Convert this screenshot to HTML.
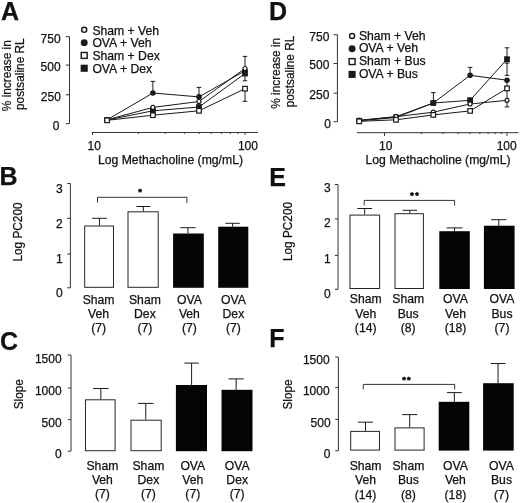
<!DOCTYPE html>
<html><head><meta charset="utf-8"><style>
html,body{margin:0;padding:0;background:#fff;}
svg{display:block;filter:grayscale(1);}
text{font-family:"Liberation Sans",sans-serif;fill:#111;stroke:#111;stroke-width:0.25px;}
</style></head><body>
<svg width="520" height="503" viewBox="0 0 520 503">
<rect width="520" height="503" fill="#fff"/>
<text x="1.00" y="19.50" font-size="25" text-anchor="start" font-weight="bold" stroke="#111" stroke-width="0.7">A</text>
<text x="269.00" y="19.50" font-size="25" text-anchor="start" font-weight="bold" stroke="#111" stroke-width="0.7">D</text>
<text x="-0.40" y="184.80" font-size="25" text-anchor="start" font-weight="bold" stroke="#111" stroke-width="0.7">B</text>
<text x="269.20" y="186.30" font-size="25" text-anchor="start" font-weight="bold" stroke="#111" stroke-width="0.7">E</text>
<text x="0.00" y="350.40" font-size="25" text-anchor="start" font-weight="bold" stroke="#111" stroke-width="0.7">C</text>
<text x="269.30" y="347.40" font-size="25" text-anchor="start" font-weight="bold" stroke="#111" stroke-width="0.7">F</text>
<line x1="69.50" y1="36.70" x2="69.50" y2="123.70" stroke="#333" stroke-width="1"/>
<line x1="65.70" y1="36.70" x2="69.50" y2="36.70" stroke="#333" stroke-width="1"/>
<text x="60.60" y="43.10" font-size="12" text-anchor="end" font-weight="normal" >750</text>
<line x1="65.70" y1="65.10" x2="69.50" y2="65.10" stroke="#333" stroke-width="1"/>
<text x="60.60" y="71.20" font-size="12" text-anchor="end" font-weight="normal" >500</text>
<line x1="65.70" y1="94.80" x2="69.50" y2="94.80" stroke="#333" stroke-width="1"/>
<text x="60.90" y="101.10" font-size="12" text-anchor="end" font-weight="normal" >250</text>
<line x1="65.70" y1="123.70" x2="69.50" y2="123.70" stroke="#333" stroke-width="1"/>
<text x="59.50" y="129.50" font-size="12" text-anchor="end" font-weight="normal" >0</text>
<line x1="91.90" y1="132.50" x2="257.80" y2="132.50" stroke="#333" stroke-width="1"/>
<line x1="92.50" y1="132.50" x2="92.50" y2="134.90" stroke="#333" stroke-width="1"/>
<line x1="138.44" y1="132.50" x2="138.44" y2="133.90" stroke="#333" stroke-width="1"/>
<line x1="165.31" y1="132.50" x2="165.31" y2="133.90" stroke="#333" stroke-width="1"/>
<line x1="184.37" y1="132.50" x2="184.37" y2="133.90" stroke="#333" stroke-width="1"/>
<line x1="199.16" y1="132.50" x2="199.16" y2="133.90" stroke="#333" stroke-width="1"/>
<line x1="211.25" y1="132.50" x2="211.25" y2="133.90" stroke="#333" stroke-width="1"/>
<line x1="221.46" y1="132.50" x2="221.46" y2="133.90" stroke="#333" stroke-width="1"/>
<line x1="230.31" y1="132.50" x2="230.31" y2="133.90" stroke="#333" stroke-width="1"/>
<line x1="238.12" y1="132.50" x2="238.12" y2="133.90" stroke="#333" stroke-width="1"/>
<line x1="245.10" y1="132.50" x2="245.10" y2="134.90" stroke="#333" stroke-width="1"/>
<text x="94.30" y="149.90" font-size="12" text-anchor="middle" font-weight="normal" >10</text>
<text x="247.90" y="149.70" font-size="12" text-anchor="middle" font-weight="normal" >100</text>
<text x="98.00" y="163.60" font-size="12.2" text-anchor="start" font-weight="normal" >Log Methacholine (mg/mL)</text>
<text transform="translate(10.60,75.70) rotate(-90) scale(0.97,1)" font-size="12.2" text-anchor="middle">% increase in</text>
<text transform="translate(24.40,74.20) rotate(-90) scale(0.97,1)" font-size="12.2" text-anchor="middle">postsaline RL</text>
<circle cx="84.20" cy="29.85" r="2.52" fill="#fff" stroke="#1a1a1a" stroke-width="1.45"/>
<text x="92.40" y="34.60" font-size="12.2" text-anchor="start" font-weight="normal" >Sham + Veh</text>
<circle cx="84.20" cy="42.65" r="3.45" fill="#1a1a1a"/>
<text x="92.40" y="47.40" font-size="12.2" text-anchor="start" font-weight="normal" >OVA + Veh</text>
<rect x="81.25" y="52.50" width="5.90" height="5.90" fill="#fff" stroke="#1a1a1a" stroke-width="1.45"/>
<text x="92.40" y="60.20" font-size="12.2" text-anchor="start" font-weight="normal" >Sham + Dex</text>
<rect x="80.65" y="64.70" width="7.10" height="7.10" fill="#1a1a1a"/>
<text x="92.40" y="73.00" font-size="12.2" text-anchor="start" font-weight="normal" >OVA + Dex</text>
<line x1="245.00" y1="88.70" x2="245.00" y2="101.30" stroke="#1a1a1a" stroke-width="1"/>
<line x1="242.70" y1="101.30" x2="247.30" y2="101.30" stroke="#1a1a1a" stroke-width="1"/>
<line x1="245.00" y1="73.50" x2="245.00" y2="80.80" stroke="#1a1a1a" stroke-width="1"/>
<line x1="242.70" y1="80.80" x2="247.30" y2="80.80" stroke="#1a1a1a" stroke-width="1"/>
<line x1="152.90" y1="93.00" x2="152.90" y2="81.40" stroke="#1a1a1a" stroke-width="1"/>
<line x1="150.60" y1="81.40" x2="155.20" y2="81.40" stroke="#1a1a1a" stroke-width="1"/>
<line x1="199.00" y1="96.90" x2="199.00" y2="87.40" stroke="#1a1a1a" stroke-width="1"/>
<line x1="196.70" y1="87.40" x2="201.30" y2="87.40" stroke="#1a1a1a" stroke-width="1"/>
<line x1="245.00" y1="70.80" x2="245.00" y2="56.40" stroke="#1a1a1a" stroke-width="1"/>
<line x1="242.70" y1="56.40" x2="247.30" y2="56.40" stroke="#1a1a1a" stroke-width="1"/>
<path d="M107.10,120.30 L152.90,115.20 L199.00,110.80 L245.00,88.70" fill="none" stroke="#1a1a1a" stroke-width="1"/>
<path d="M107.10,120.00 L152.90,110.80 L199.00,107.00 L245.00,73.50" fill="none" stroke="#1a1a1a" stroke-width="1"/>
<path d="M107.10,119.80 L152.90,107.40 L199.00,101.50 L245.00,68.50" fill="none" stroke="#1a1a1a" stroke-width="1"/>
<path d="M107.10,119.80 L152.90,93.00 L199.00,96.90 L245.00,70.80" fill="none" stroke="#1a1a1a" stroke-width="1"/>
<circle cx="107.10" cy="119.80" r="2.80" fill="#1a1a1a"/>
<circle cx="152.90" cy="93.00" r="2.80" fill="#1a1a1a"/>
<circle cx="199.00" cy="96.90" r="2.80" fill="#1a1a1a"/>
<circle cx="245.00" cy="70.80" r="2.80" fill="#1a1a1a"/>
<rect x="104.20" y="117.10" width="5.80" height="5.80" fill="#1a1a1a"/>
<rect x="150.00" y="107.90" width="5.80" height="5.80" fill="#1a1a1a"/>
<rect x="196.10" y="104.10" width="5.80" height="5.80" fill="#1a1a1a"/>
<rect x="242.10" y="70.60" width="5.80" height="5.80" fill="#1a1a1a"/>
<circle cx="107.10" cy="119.80" r="2.00" fill="#fff" stroke="#1a1a1a" stroke-width="1.2"/>
<circle cx="152.90" cy="107.40" r="2.00" fill="#fff" stroke="#1a1a1a" stroke-width="1.2"/>
<circle cx="199.00" cy="101.50" r="2.00" fill="#fff" stroke="#1a1a1a" stroke-width="1.2"/>
<circle cx="245.00" cy="68.50" r="2.00" fill="#fff" stroke="#1a1a1a" stroke-width="1.2"/>
<rect x="104.80" y="118.00" width="4.60" height="4.60" fill="#fff" stroke="#1a1a1a" stroke-width="1.2"/>
<rect x="150.60" y="112.90" width="4.60" height="4.60" fill="#fff" stroke="#1a1a1a" stroke-width="1.2"/>
<rect x="196.70" y="108.50" width="4.60" height="4.60" fill="#fff" stroke="#1a1a1a" stroke-width="1.2"/>
<rect x="242.70" y="86.40" width="4.60" height="4.60" fill="#fff" stroke="#1a1a1a" stroke-width="1.2"/>
<line x1="337.40" y1="34.70" x2="337.40" y2="121.70" stroke="#333" stroke-width="1"/>
<line x1="333.60" y1="34.70" x2="337.40" y2="34.70" stroke="#333" stroke-width="1"/>
<text x="329.40" y="41.40" font-size="12" text-anchor="end" font-weight="normal" >750</text>
<line x1="333.60" y1="63.50" x2="337.40" y2="63.50" stroke="#333" stroke-width="1"/>
<text x="329.40" y="69.30" font-size="12" text-anchor="end" font-weight="normal" >500</text>
<line x1="333.60" y1="93.20" x2="337.40" y2="93.20" stroke="#333" stroke-width="1"/>
<text x="329.40" y="98.70" font-size="12" text-anchor="end" font-weight="normal" >250</text>
<line x1="333.60" y1="121.70" x2="337.40" y2="121.70" stroke="#333" stroke-width="1"/>
<text x="331.00" y="128.00" font-size="12" text-anchor="end" font-weight="normal" >0</text>
<line x1="356.90" y1="132.70" x2="518.30" y2="132.70" stroke="#333" stroke-width="1"/>
<line x1="384.50" y1="132.70" x2="384.50" y2="135.90" stroke="#333" stroke-width="1"/>
<line x1="421.38" y1="132.70" x2="421.38" y2="134.10" stroke="#333" stroke-width="1"/>
<line x1="442.95" y1="132.70" x2="442.95" y2="134.10" stroke="#333" stroke-width="1"/>
<line x1="458.25" y1="132.70" x2="458.25" y2="134.10" stroke="#333" stroke-width="1"/>
<line x1="470.12" y1="132.70" x2="470.12" y2="134.10" stroke="#333" stroke-width="1"/>
<line x1="479.82" y1="132.70" x2="479.82" y2="134.10" stroke="#333" stroke-width="1"/>
<line x1="488.02" y1="132.70" x2="488.02" y2="134.10" stroke="#333" stroke-width="1"/>
<line x1="495.13" y1="132.70" x2="495.13" y2="134.10" stroke="#333" stroke-width="1"/>
<line x1="501.39" y1="132.70" x2="501.39" y2="134.10" stroke="#333" stroke-width="1"/>
<line x1="507.00" y1="132.70" x2="507.00" y2="135.90" stroke="#333" stroke-width="1"/>
<text x="385.80" y="149.90" font-size="12" text-anchor="middle" font-weight="normal" >10</text>
<text x="506.70" y="149.70" font-size="12" text-anchor="middle" font-weight="normal" >100</text>
<text x="365.50" y="164.00" font-size="12.2" text-anchor="start" font-weight="normal" >Log Methacholine (mg/mL)</text>
<text transform="translate(279.80,73.30) rotate(-90) scale(0.97,1)" font-size="12.2" text-anchor="middle">% increase in</text>
<text transform="translate(293.60,71.50) rotate(-90) scale(0.97,1)" font-size="12.2" text-anchor="middle">postsaline RL</text>
<circle cx="352.10" cy="36.00" r="2.52" fill="#fff" stroke="#1a1a1a" stroke-width="1.45"/>
<text x="358.90" y="39.60" font-size="12.2" text-anchor="start" font-weight="normal" >Sham + Veh</text>
<circle cx="352.10" cy="48.80" r="3.45" fill="#1a1a1a"/>
<text x="358.90" y="52.40" font-size="12.2" text-anchor="start" font-weight="normal" >OVA + Veh</text>
<rect x="349.15" y="58.65" width="5.90" height="5.90" fill="#fff" stroke="#1a1a1a" stroke-width="1.45"/>
<text x="358.90" y="65.20" font-size="12.2" text-anchor="start" font-weight="normal" >Sham + Bus</text>
<rect x="348.55" y="70.85" width="7.10" height="7.10" fill="#1a1a1a"/>
<text x="358.90" y="78.00" font-size="12.2" text-anchor="start" font-weight="normal" >OVA + Bus</text>
<line x1="507.00" y1="100.30" x2="507.00" y2="106.90" stroke="#1a1a1a" stroke-width="1"/>
<line x1="504.70" y1="106.90" x2="509.30" y2="106.90" stroke="#1a1a1a" stroke-width="1"/>
<line x1="507.00" y1="80.20" x2="507.00" y2="100.30" stroke="#1a1a1a" stroke-width="1"/>
<line x1="470.10" y1="75.30" x2="470.10" y2="67.40" stroke="#1a1a1a" stroke-width="1"/>
<line x1="467.80" y1="67.40" x2="472.40" y2="67.40" stroke="#1a1a1a" stroke-width="1"/>
<line x1="433.40" y1="103.00" x2="433.40" y2="92.60" stroke="#1a1a1a" stroke-width="1"/>
<line x1="431.10" y1="92.60" x2="435.70" y2="92.60" stroke="#1a1a1a" stroke-width="1"/>
<line x1="470.10" y1="101.00" x2="470.10" y2="98.30" stroke="#1a1a1a" stroke-width="1"/>
<line x1="467.80" y1="98.30" x2="472.40" y2="98.30" stroke="#1a1a1a" stroke-width="1"/>
<line x1="507.00" y1="59.20" x2="507.00" y2="47.80" stroke="#1a1a1a" stroke-width="1"/>
<line x1="504.70" y1="47.80" x2="509.30" y2="47.80" stroke="#1a1a1a" stroke-width="1"/>
<line x1="507.00" y1="59.20" x2="507.00" y2="63.10" stroke="#1a1a1a" stroke-width="1"/>
<line x1="504.70" y1="63.10" x2="509.30" y2="63.10" stroke="#1a1a1a" stroke-width="1"/>
<line x1="507.00" y1="63.10" x2="507.00" y2="75.40" stroke="#1a1a1a" stroke-width="1"/>
<line x1="504.70" y1="75.40" x2="509.30" y2="75.40" stroke="#1a1a1a" stroke-width="1"/>
<path d="M359.20,121.30 L396.00,119.80 L433.30,114.90 L470.10,110.90 L507.00,88.40" fill="none" stroke="#1a1a1a" stroke-width="1"/>
<path d="M359.20,120.30 L396.00,116.70 L433.30,112.20 L470.10,104.00 L507.00,100.30" fill="none" stroke="#1a1a1a" stroke-width="1"/>
<path d="M359.20,120.50 L396.00,116.70 L433.30,103.00 L470.10,75.30 L507.00,80.20" fill="none" stroke="#1a1a1a" stroke-width="1"/>
<path d="M359.20,120.80 L396.00,117.50 L433.30,103.00 L470.10,100.30 L507.00,59.20" fill="none" stroke="#1a1a1a" stroke-width="1"/>
<circle cx="359.20" cy="120.50" r="2.80" fill="#1a1a1a"/>
<circle cx="396.00" cy="116.70" r="2.80" fill="#1a1a1a"/>
<circle cx="433.30" cy="103.00" r="2.80" fill="#1a1a1a"/>
<circle cx="470.10" cy="75.30" r="2.80" fill="#1a1a1a"/>
<circle cx="507.00" cy="80.20" r="2.80" fill="#1a1a1a"/>
<rect x="356.30" y="117.90" width="5.80" height="5.80" fill="#1a1a1a"/>
<rect x="393.10" y="114.60" width="5.80" height="5.80" fill="#1a1a1a"/>
<rect x="430.40" y="100.10" width="5.80" height="5.80" fill="#1a1a1a"/>
<rect x="467.20" y="97.40" width="5.80" height="5.80" fill="#1a1a1a"/>
<rect x="504.10" y="56.30" width="5.80" height="5.80" fill="#1a1a1a"/>
<circle cx="359.20" cy="120.30" r="2.00" fill="#fff" stroke="#1a1a1a" stroke-width="1.2"/>
<circle cx="396.00" cy="116.70" r="2.00" fill="#fff" stroke="#1a1a1a" stroke-width="1.2"/>
<circle cx="433.30" cy="112.20" r="2.00" fill="#fff" stroke="#1a1a1a" stroke-width="1.2"/>
<circle cx="470.10" cy="104.00" r="2.00" fill="#fff" stroke="#1a1a1a" stroke-width="1.2"/>
<circle cx="507.00" cy="100.30" r="2.00" fill="#fff" stroke="#1a1a1a" stroke-width="1.2"/>
<rect x="356.90" y="119.00" width="4.60" height="4.60" fill="#fff" stroke="#1a1a1a" stroke-width="1.2"/>
<rect x="393.70" y="117.50" width="4.60" height="4.60" fill="#fff" stroke="#1a1a1a" stroke-width="1.2"/>
<rect x="431.00" y="112.60" width="4.60" height="4.60" fill="#fff" stroke="#1a1a1a" stroke-width="1.2"/>
<rect x="467.80" y="108.60" width="4.60" height="4.60" fill="#fff" stroke="#1a1a1a" stroke-width="1.2"/>
<rect x="504.70" y="86.10" width="4.60" height="4.60" fill="#fff" stroke="#1a1a1a" stroke-width="1.2"/>
<line x1="70.40" y1="183.50" x2="70.40" y2="287.80" stroke="#333" stroke-width="1"/>
<line x1="67.20" y1="183.50" x2="70.40" y2="183.50" stroke="#333" stroke-width="1"/>
<text x="62.80" y="192.70" font-size="12" text-anchor="end" font-weight="normal" >3</text>
<line x1="67.20" y1="218.30" x2="70.40" y2="218.30" stroke="#333" stroke-width="1"/>
<text x="62.80" y="227.60" font-size="12" text-anchor="end" font-weight="normal" >2</text>
<line x1="67.20" y1="254.00" x2="70.40" y2="254.00" stroke="#333" stroke-width="1"/>
<text x="62.80" y="262.70" font-size="12" text-anchor="end" font-weight="normal" >1</text>
<line x1="67.20" y1="287.80" x2="70.40" y2="287.80" stroke="#333" stroke-width="1"/>
<text x="62.80" y="297.00" font-size="12" text-anchor="end" font-weight="normal" >0</text>
<line x1="99.45" y1="225.50" x2="99.45" y2="218.30" stroke="#1a1a1a" stroke-width="1"/>
<line x1="92.10" y1="218.30" x2="106.80" y2="218.30" stroke="#1a1a1a" stroke-width="1"/>
<line x1="143.35" y1="211.30" x2="143.35" y2="206.50" stroke="#1a1a1a" stroke-width="1"/>
<line x1="136.40" y1="206.50" x2="150.30" y2="206.50" stroke="#1a1a1a" stroke-width="1"/>
<line x1="187.90" y1="233.50" x2="187.90" y2="227.70" stroke="#1a1a1a" stroke-width="1"/>
<line x1="180.20" y1="227.70" x2="195.60" y2="227.70" stroke="#1a1a1a" stroke-width="1"/>
<line x1="232.60" y1="226.70" x2="232.60" y2="223.30" stroke="#1a1a1a" stroke-width="1"/>
<line x1="225.40" y1="223.30" x2="239.80" y2="223.30" stroke="#1a1a1a" stroke-width="1"/>
<rect x="84.70" y="226.00" width="28.80" height="61.30" fill="#fff" stroke="#262626" stroke-width="1"/>
<rect x="128.00" y="211.80" width="30.20" height="75.50" fill="#fff" stroke="#262626" stroke-width="1"/>
<rect x="173.10" y="233.50" width="30.70" height="54.30" fill="#050505"/>
<rect x="218.20" y="226.70" width="30.10" height="61.10" fill="#050505"/>
<text x="98.60" y="303.60" font-size="12.2" text-anchor="middle" font-weight="normal" >Sham</text>
<text x="98.60" y="317.90" font-size="12.2" text-anchor="middle" font-weight="normal" >Veh</text>
<text x="98.60" y="332.30" font-size="12.2" text-anchor="middle" font-weight="normal" >(7)</text>
<text x="144.90" y="303.60" font-size="12.2" text-anchor="middle" font-weight="normal" >Sham</text>
<text x="144.90" y="317.90" font-size="12.2" text-anchor="middle" font-weight="normal" >Dex</text>
<text x="144.90" y="332.30" font-size="12.2" text-anchor="middle" font-weight="normal" >(7)</text>
<text x="189.40" y="303.60" font-size="12.2" text-anchor="middle" font-weight="normal" >OVA</text>
<text x="189.40" y="317.90" font-size="12.2" text-anchor="middle" font-weight="normal" >Veh</text>
<text x="189.40" y="332.30" font-size="12.2" text-anchor="middle" font-weight="normal" >(7)</text>
<text x="233.40" y="303.60" font-size="12.2" text-anchor="middle" font-weight="normal" >OVA</text>
<text x="233.40" y="317.90" font-size="12.2" text-anchor="middle" font-weight="normal" >Dex</text>
<text x="233.40" y="332.30" font-size="12.2" text-anchor="middle" font-weight="normal" >(7)</text>
<path d="M97.50,202.50 L97.50,197.30 L186.90,197.30 L186.90,203.00" fill="none" stroke="#333" stroke-width="1"/>
<polygon points="140.10,188.40 141.07,189.36 142.29,189.99 141.67,191.21 141.45,192.56 140.10,192.36 138.75,192.56 138.53,191.21 137.91,189.99 139.13,189.36" fill="#111"/>
<text transform="translate(21.60,232.00) rotate(-90) scale(0.97,1)" font-size="12.2" text-anchor="middle">Log PC200</text>
<line x1="71.00" y1="355.10" x2="71.00" y2="451.20" stroke="#333" stroke-width="1"/>
<line x1="67.80" y1="355.10" x2="71.00" y2="355.10" stroke="#333" stroke-width="1"/>
<text x="61.60" y="363.00" font-size="12" text-anchor="end" font-weight="normal" >1500</text>
<line x1="67.80" y1="388.00" x2="71.00" y2="388.00" stroke="#333" stroke-width="1"/>
<text x="61.60" y="394.90" font-size="12" text-anchor="end" font-weight="normal" >1000</text>
<line x1="67.80" y1="419.70" x2="71.00" y2="419.70" stroke="#333" stroke-width="1"/>
<text x="61.60" y="426.60" font-size="12" text-anchor="end" font-weight="normal" >500</text>
<line x1="67.80" y1="451.20" x2="71.00" y2="451.20" stroke="#333" stroke-width="1"/>
<text x="61.60" y="458.40" font-size="12" text-anchor="end" font-weight="normal" >0</text>
<line x1="100.85" y1="399.30" x2="100.85" y2="388.50" stroke="#1a1a1a" stroke-width="1"/>
<line x1="93.10" y1="388.50" x2="108.60" y2="388.50" stroke="#1a1a1a" stroke-width="1"/>
<line x1="145.75" y1="419.70" x2="145.75" y2="403.40" stroke="#1a1a1a" stroke-width="1"/>
<line x1="138.00" y1="403.40" x2="153.50" y2="403.40" stroke="#1a1a1a" stroke-width="1"/>
<line x1="191.60" y1="385.00" x2="191.60" y2="363.10" stroke="#1a1a1a" stroke-width="1"/>
<line x1="184.30" y1="363.10" x2="198.90" y2="363.10" stroke="#1a1a1a" stroke-width="1"/>
<line x1="236.15" y1="389.80" x2="236.15" y2="378.90" stroke="#1a1a1a" stroke-width="1"/>
<line x1="228.50" y1="378.90" x2="243.80" y2="378.90" stroke="#1a1a1a" stroke-width="1"/>
<rect x="85.50" y="399.80" width="29.60" height="50.90" fill="#fff" stroke="#262626" stroke-width="1"/>
<rect x="131.00" y="420.20" width="30.20" height="30.50" fill="#fff" stroke="#262626" stroke-width="1"/>
<rect x="175.90" y="385.00" width="31.10" height="66.20" fill="#050505"/>
<rect x="221.50" y="389.80" width="31.00" height="61.40" fill="#050505"/>
<text x="102.40" y="469.60" font-size="12.2" text-anchor="middle" font-weight="normal" >Sham</text>
<text x="102.40" y="484.00" font-size="12.2" text-anchor="middle" font-weight="normal" >Veh</text>
<text x="102.40" y="498.40" font-size="12.2" text-anchor="middle" font-weight="normal" >(7)</text>
<text x="148.40" y="469.60" font-size="12.2" text-anchor="middle" font-weight="normal" >Sham</text>
<text x="148.40" y="484.00" font-size="12.2" text-anchor="middle" font-weight="normal" >Dex</text>
<text x="148.40" y="498.40" font-size="12.2" text-anchor="middle" font-weight="normal" >(7)</text>
<text x="192.80" y="469.60" font-size="12.2" text-anchor="middle" font-weight="normal" >OVA</text>
<text x="192.80" y="484.00" font-size="12.2" text-anchor="middle" font-weight="normal" >Veh</text>
<text x="192.80" y="498.40" font-size="12.2" text-anchor="middle" font-weight="normal" >(7)</text>
<text x="237.20" y="469.60" font-size="12.2" text-anchor="middle" font-weight="normal" >OVA</text>
<text x="237.20" y="484.00" font-size="12.2" text-anchor="middle" font-weight="normal" >Dex</text>
<text x="237.20" y="498.40" font-size="12.2" text-anchor="middle" font-weight="normal" >(7)</text>
<text transform="translate(23.20,394.20) rotate(-90) scale(0.97,1)" font-size="12.2" text-anchor="middle">Slope</text>
<line x1="338.00" y1="184.50" x2="338.00" y2="289.30" stroke="#333" stroke-width="1"/>
<line x1="334.80" y1="184.50" x2="338.00" y2="184.50" stroke="#333" stroke-width="1"/>
<text x="330.60" y="191.60" font-size="12" text-anchor="end" font-weight="normal" >3</text>
<line x1="334.80" y1="218.90" x2="338.00" y2="218.90" stroke="#333" stroke-width="1"/>
<text x="330.60" y="226.70" font-size="12" text-anchor="end" font-weight="normal" >2</text>
<line x1="334.80" y1="255.40" x2="338.00" y2="255.40" stroke="#333" stroke-width="1"/>
<text x="330.60" y="262.50" font-size="12" text-anchor="end" font-weight="normal" >1</text>
<line x1="334.80" y1="289.30" x2="338.00" y2="289.30" stroke="#333" stroke-width="1"/>
<text x="330.60" y="297.60" font-size="12" text-anchor="end" font-weight="normal" >0</text>
<line x1="364.65" y1="214.60" x2="364.65" y2="208.50" stroke="#1a1a1a" stroke-width="1"/>
<line x1="357.30" y1="208.50" x2="372.00" y2="208.50" stroke="#1a1a1a" stroke-width="1"/>
<line x1="409.80" y1="213.20" x2="409.80" y2="210.30" stroke="#1a1a1a" stroke-width="1"/>
<line x1="402.60" y1="210.30" x2="417.00" y2="210.30" stroke="#1a1a1a" stroke-width="1"/>
<line x1="454.55" y1="231.20" x2="454.55" y2="227.90" stroke="#1a1a1a" stroke-width="1"/>
<line x1="446.60" y1="227.90" x2="462.50" y2="227.90" stroke="#1a1a1a" stroke-width="1"/>
<line x1="498.80" y1="225.70" x2="498.80" y2="219.70" stroke="#1a1a1a" stroke-width="1"/>
<line x1="491.20" y1="219.70" x2="506.40" y2="219.70" stroke="#1a1a1a" stroke-width="1"/>
<rect x="350.00" y="215.10" width="29.60" height="73.40" fill="#fff" stroke="#262626" stroke-width="1"/>
<rect x="395.00" y="213.70" width="28.40" height="74.80" fill="#fff" stroke="#262626" stroke-width="1"/>
<rect x="439.30" y="231.20" width="30.50" height="57.80" fill="#050505"/>
<rect x="483.90" y="225.70" width="30.70" height="63.30" fill="#050505"/>
<text x="365.70" y="303.30" font-size="12.2" text-anchor="middle" font-weight="normal" >Sham</text>
<text x="365.70" y="317.60" font-size="12.2" text-anchor="middle" font-weight="normal" >Veh</text>
<text x="365.70" y="332.00" font-size="12.2" text-anchor="middle" font-weight="normal" >(14)</text>
<text x="408.20" y="303.30" font-size="12.2" text-anchor="middle" font-weight="normal" >Sham</text>
<text x="408.20" y="317.60" font-size="12.2" text-anchor="middle" font-weight="normal" >Bus</text>
<text x="408.20" y="332.00" font-size="12.2" text-anchor="middle" font-weight="normal" >(8)</text>
<text x="455.50" y="303.30" font-size="12.2" text-anchor="middle" font-weight="normal" >OVA</text>
<text x="455.50" y="317.60" font-size="12.2" text-anchor="middle" font-weight="normal" >Veh</text>
<text x="455.50" y="332.00" font-size="12.2" text-anchor="middle" font-weight="normal" >(18)</text>
<text x="502.00" y="303.30" font-size="12.2" text-anchor="middle" font-weight="normal" >OVA</text>
<text x="502.00" y="317.60" font-size="12.2" text-anchor="middle" font-weight="normal" >Bus</text>
<text x="502.00" y="332.00" font-size="12.2" text-anchor="middle" font-weight="normal" >(7)</text>
<path d="M364.20,205.30 L364.20,200.40 L454.60,200.40 L454.60,205.60" fill="none" stroke="#333" stroke-width="1"/>
<polygon points="412.00,191.80 412.97,192.76 414.19,193.39 413.57,194.61 413.35,195.96 412.00,195.76 410.65,195.96 410.43,194.61 409.81,193.39 411.03,192.76" fill="#111"/>
<polygon points="417.00,191.80 417.97,192.76 419.19,193.39 418.57,194.61 418.35,195.96 417.00,195.76 415.65,195.96 415.43,194.61 414.81,193.39 416.03,192.76" fill="#111"/>
<text transform="translate(292.40,231.50) rotate(-90) scale(0.97,1)" font-size="12.2" text-anchor="middle">Log PC200</text>
<line x1="338.40" y1="357.00" x2="338.40" y2="450.70" stroke="#333" stroke-width="1"/>
<line x1="335.20" y1="357.00" x2="338.40" y2="357.00" stroke="#333" stroke-width="1"/>
<text x="329.60" y="363.60" font-size="12" text-anchor="end" font-weight="normal" >1500</text>
<line x1="335.20" y1="387.60" x2="338.40" y2="387.60" stroke="#333" stroke-width="1"/>
<text x="329.60" y="394.50" font-size="12" text-anchor="end" font-weight="normal" >1000</text>
<line x1="335.20" y1="419.40" x2="338.40" y2="419.40" stroke="#333" stroke-width="1"/>
<text x="330.60" y="426.80" font-size="12" text-anchor="end" font-weight="normal" >500</text>
<line x1="335.20" y1="450.70" x2="338.40" y2="450.70" stroke="#333" stroke-width="1"/>
<text x="330.40" y="457.80" font-size="12" text-anchor="end" font-weight="normal" >0</text>
<line x1="365.50" y1="430.90" x2="365.50" y2="422.20" stroke="#1a1a1a" stroke-width="1"/>
<line x1="358.00" y1="422.20" x2="373.00" y2="422.20" stroke="#1a1a1a" stroke-width="1"/>
<line x1="409.70" y1="427.40" x2="409.70" y2="414.60" stroke="#1a1a1a" stroke-width="1"/>
<line x1="402.10" y1="414.60" x2="417.30" y2="414.60" stroke="#1a1a1a" stroke-width="1"/>
<line x1="454.35" y1="401.80" x2="454.35" y2="392.60" stroke="#1a1a1a" stroke-width="1"/>
<line x1="447.00" y1="392.60" x2="461.70" y2="392.60" stroke="#1a1a1a" stroke-width="1"/>
<line x1="498.05" y1="383.20" x2="498.05" y2="363.50" stroke="#1a1a1a" stroke-width="1"/>
<line x1="490.70" y1="363.50" x2="505.40" y2="363.50" stroke="#1a1a1a" stroke-width="1"/>
<rect x="350.70" y="431.40" width="28.80" height="18.70" fill="#fff" stroke="#262626" stroke-width="1"/>
<rect x="395.00" y="427.90" width="29.10" height="22.20" fill="#fff" stroke="#262626" stroke-width="1"/>
<rect x="438.70" y="401.80" width="30.60" height="48.80" fill="#050505"/>
<rect x="483.10" y="383.20" width="30.60" height="67.40" fill="#050505"/>
<text x="365.60" y="469.80" font-size="12.2" text-anchor="middle" font-weight="normal" >Sham</text>
<text x="365.60" y="484.20" font-size="12.2" text-anchor="middle" font-weight="normal" >Veh</text>
<text x="365.60" y="498.60" font-size="12.2" text-anchor="middle" font-weight="normal" >(14)</text>
<text x="408.40" y="469.80" font-size="12.2" text-anchor="middle" font-weight="normal" >Sham</text>
<text x="408.40" y="484.20" font-size="12.2" text-anchor="middle" font-weight="normal" >Bus</text>
<text x="408.40" y="498.60" font-size="12.2" text-anchor="middle" font-weight="normal" >(8)</text>
<text x="455.40" y="469.80" font-size="12.2" text-anchor="middle" font-weight="normal" >OVA</text>
<text x="455.40" y="484.20" font-size="12.2" text-anchor="middle" font-weight="normal" >Veh</text>
<text x="455.40" y="498.60" font-size="12.2" text-anchor="middle" font-weight="normal" >(18)</text>
<text x="501.50" y="469.80" font-size="12.2" text-anchor="middle" font-weight="normal" >OVA</text>
<text x="501.50" y="484.20" font-size="12.2" text-anchor="middle" font-weight="normal" >Bus</text>
<text x="501.50" y="498.60" font-size="12.2" text-anchor="middle" font-weight="normal" >(7)</text>
<path d="M363.30,389.40 L363.30,384.40 L454.70,384.40 L454.70,389.40" fill="none" stroke="#333" stroke-width="1"/>
<polygon points="404.10,376.40 405.07,377.36 406.29,377.99 405.67,379.21 405.45,380.56 404.10,380.36 402.75,380.56 402.53,379.21 401.91,377.99 403.13,377.36" fill="#111"/>
<polygon points="408.80,376.40 409.77,377.36 410.99,377.99 410.37,379.21 410.15,380.56 408.80,380.36 407.45,380.56 407.23,379.21 406.61,377.99 407.83,377.36" fill="#111"/>
<text transform="translate(292.40,394.50) rotate(-90) scale(0.97,1)" font-size="12.2" text-anchor="middle">Slope</text>
</svg>
</body></html>
